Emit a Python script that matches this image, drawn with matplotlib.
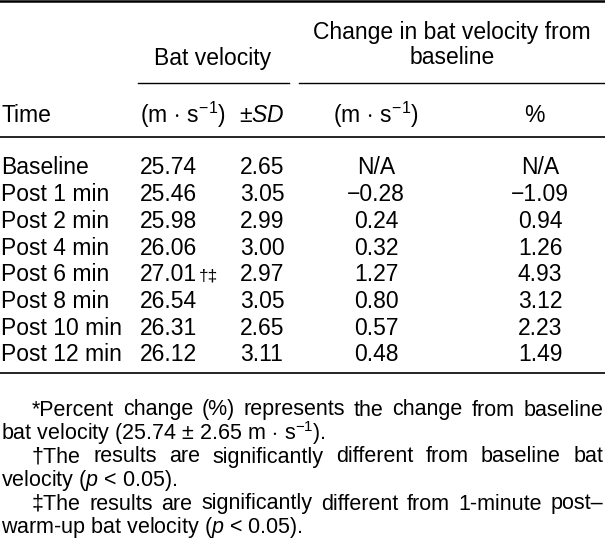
import matplotlib
matplotlib.use("Agg")
import matplotlib.pyplot as plt

# du lieu bang
times = ["Baseline", "Post 1 min", "Post 2 min", "Post 4 min",
         "Post 6 min", "Post 8 min", "Post 10 min", "Post 12 min"]
bat_vel = ["25.74", "25.46", "25.98", "26.06", "27.01", "26.54", "26.31", "26.12"]
bat_marks = ["", "", "", "", "\u2020\u2021", "", "", ""]
sd_vals = ["2.65", "3.05", "2.99", "3.00", "2.97", "3.05", "2.65", "3.11"]
chg_ms = ["N/A", "\u22120.28", "0.24", "0.32", "1.27", "0.80", "0.57", "0.48"]
chg_pct = ["N/A", "\u22121.09", "0.94", "1.26", "4.93", "3.12", "2.23", "1.49"]

# (dong chu thich, thut dau dong, can deu)
notes = [
    ("*Percent change (%) represents the change from baseline", True, True),
    ("bat velocity (25.74 $\\pm$ 2.65 m$\\,\\cdot\\,$s$^{-1}$).", False, False),
    ("\u2020The results are significantly different from baseline bat", True, True),
    ("velocity ($\\mathit{p}$ < 0.05).", False, False),
    ("\u2021The results are significantly different from 1-minute post\u2013", True, True),
    ("warm-up bat velocity ($\\mathit{p}$ < 0.05).", False, False),
]

plt.rcParams['font.family'] = ['Liberation Sans', 'DejaVu Sans']
plt.rcParams['mathtext.fontset'] = 'custom'
plt.rcParams['mathtext.rm'] = 'Liberation Sans'
plt.rcParams['mathtext.it'] = 'Liberation Sans:italic'
plt.rcParams['mathtext.bf'] = 'Liberation Sans:bold'

W, H = 605, 541
fig = plt.figure(figsize=(W / 100, H / 100), dpi=100)
ax = fig.add_axes([0, 0, 1, 1])
ax.set_xlim(0, W)
ax.set_ylim(H, 0)
ax.axis('off')

fs = 16.5
fsn = 15.5
col = 'black'
x_time, x_bat, x_sd, x_chg, x_pct = 1, 140, 240, 376, 540

# duong ke ngang
ax.plot([0, W], [1, 1], color=col, lw=1.8)
ax.plot([138, 289], [83, 83], color=col, lw=1.0)
ax.plot([299, W], [83, 83], color=col, lw=1.0)
ax.plot([0, W], [137, 137], color=col, lw=1.2)
ax.plot([0, W], [373, 373], color=col, lw=1.2)

# tieu de
ax.text(213, 58, "Bat velocity", fontsize=fs, ha='center', va='center')
ax.text(452, 32, "Change in bat velocity from", fontsize=fs, ha='center', va='center')
ax.text(452, 57, "baseline", fontsize=fs, ha='center', va='center')
hy = 115
ax.text(x_time, hy, "Time", fontsize=fs, ha='left', va='center')
ax.text(x_bat, hy, "(m$\\,\\cdot\\,$s$^{-1}$)", fontsize=fs, ha='left', va='center')
ax.text(x_sd - 1, hy, "$\\pm$$\\mathit{SD}$", fontsize=fs, ha='left', va='center')
ax.text(x_chg, hy, "(m$\\,\\cdot\\,$s$^{-1}$)", fontsize=fs, ha='center', va='center')
ax.text(x_pct - 6, hy, "%", fontsize=fs, ha='center', va='center')

# cac dong du lieu
y0, dy = 168, 26.7
for i in range(len(times)):
    y = y0 + dy * i
    ax.text(x_time, y, times[i], fontsize=fs, ha='left', va='center')
    ax.text(x_bat, y, bat_vel[i], fontsize=fs, ha='left', va='center')
    if bat_marks[i]:
        ax.text(x_bat + 59, y + 1, bat_marks[i], fontsize=fs * 0.75, ha='left', va='center')
    ax.text(x_sd, y, sd_vals[i], fontsize=fs, ha='left', va='center')
    ax.text(x_chg, y, chg_ms[i], fontsize=fs, ha='center', va='center')
    ax.text(x_pct, y, chg_pct[i], fontsize=fs, ha='center', va='center')

# chu thich (can deu 2 ben)
fig.canvas.draw()
rend = fig.canvas.get_renderer()
ny0, ndy = 410, 23.5
for k, (line, indent, justify) in enumerate(notes):
    y = ny0 + ndy * k
    x0 = 32 if indent else 1
    if not justify:
        ax.text(x0, y, line, fontsize=fsn, ha='left', va='center')
        continue
    words = line.split(' ')
    objs = []
    widths = []
    for w in words:
        o = ax.text(0, y, w, fontsize=fsn, ha='left', va='center')
        widths.append(o.get_window_extent(rend).width)
        objs.append(o)
    gap = (603 - x0 - sum(widths)) / (len(words) - 1)
    x = x0
    for o, w in zip(objs, widths):
        o.set_x(x)
        x += w + gap

fig.savefig("out.png", dpi=100)
